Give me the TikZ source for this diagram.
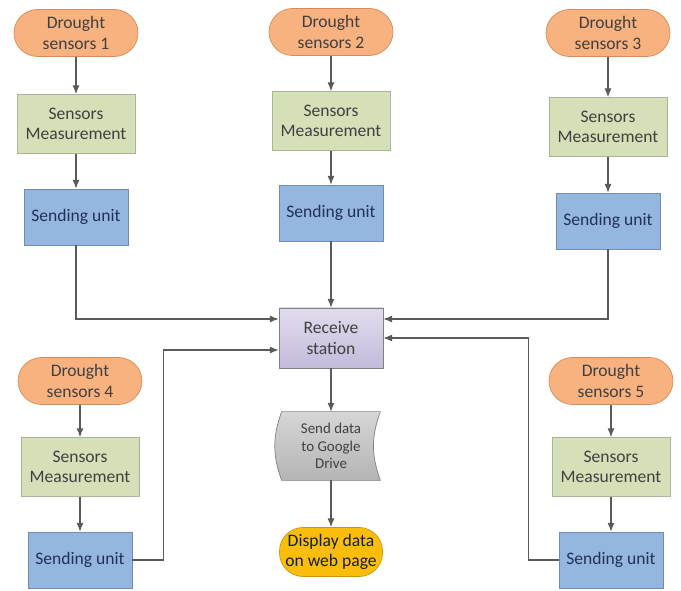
\documentclass[tikz,border=0pt]{standalone}
\usepackage{fontspec}
\setmainfont{Carlito}
\usepackage{xcolor}
\usepackage{tikz}
\usetikzlibrary{arrows.meta, positioning, backgrounds}
\definecolor{sensorfill}{RGB}{247,178,128}
\definecolor{sensordraw}{RGB}{214,140,90}
\definecolor{measfill}{RGB}{214,224,184}
\definecolor{measdraw}{RGB}{170,180,150}
\definecolor{sendfill}{RGB}{149,182,222}
\definecolor{senddraw}{RGB}{110,140,180}
\definecolor{recvtop}{RGB}{226,220,238}
\definecolor{recvbot}{RGB}{196,186,218}
\definecolor{drivetop}{RGB}{214,214,214}
\definecolor{drivebot}{RGB}{180,180,180}
\definecolor{webfill}{RGB}{250,190,10}
\definecolor{webdraw}{RGB}{200,150,20}
\definecolor{linegray}{RGB}{90,90,90}
\definecolor{txtgray}{RGB}{64,64,64}
\definecolor{txtblue}{RGB}{30,50,90}

\begin{document}
\begin{tikzpicture}[
    font=\fontsize{10}{11.5}\selectfont,
    sensor/.style={rectangle, rounded corners=0.47cm, draw=sensordraw, fill=sensorfill, text=txtgray, minimum width=2.48cm, minimum height=0.94cm, align=center, inner sep=1pt},
    meas/.style={rectangle, draw=measdraw, fill=measfill, text=txtgray, minimum width=2.36cm, minimum height=1.18cm, align=center},
    sendbox/.style={rectangle, draw=senddraw, fill=sendfill, text=txtblue, minimum width=2.08cm, minimum height=1.12cm, align=center},
    arrow/.style={-{Latex[length=5pt, width=4pt]}, draw=linegray, line width=0.6pt}
]
    \useasboundingbox (0, 0) rectangle (13.62, 11.8);

    % Top row of sensors
    \node[sensor] (ds1) at (1.52, 11.14) {Drought\\sensors 1};
    \node[meas] (sm1) at (1.52, 9.32) {Sensors\\Measurement};
    \node[sendbox] (su1) at (1.52, 7.46) {Sending unit};

    \node[sensor] (ds2) at (6.62, 11.16) {Drought\\sensors 2};
    \node[meas] (sm2) at (6.62, 9.38) {Sensors\\Measurement};
    \node[sendbox] (su2) at (6.62, 7.54) {Sending unit};

    \node[sensor] (ds3) at (12.16, 11.14) {Drought\\sensors 3};
    \node[meas] (sm3) at (12.16, 9.26) {Sensors\\Measurement};
    \node[sendbox] (su3) at (12.16, 7.38) {Sending unit};

    % Bottom row of sensors
    \node[sensor] (ds4) at (1.6, 4.18) {Drought\\sensors 4};
    \node[meas] (sm4) at (1.6, 2.46) {Sensors\\Measurement};
    \node[sendbox] (su4) at (1.6, 0.6) {Sending unit};

    \node[sensor] (ds5) at (12.22, 4.18) {Drought\\sensors 5};
    \node[meas] (sm5) at (12.22, 2.46) {Sensors\\Measurement};
    \node[sendbox] (su5) at (12.22, 0.6) {Sending unit};

    % Middle column
    \node[rectangle, draw=gray, top color=recvtop, bottom color=recvbot, text=txtgray, minimum width=2.08cm, minimum height=1.2cm, align=center] (rs) at (6.62, 5.04) {Receive\\station};
    \node[minimum width=1.96cm, minimum height=1.36cm, align=center, text=txtgray, font=\fontsize{8.5}{10}\selectfont] (gd) at (6.62, 2.88) {Send data\\to Google\\Drive};
    \node[sensor, draw=webdraw, fill=webfill, text=txtblue!60!black, minimum width=2.06cm, minimum height=0.98cm] (wp) at (6.62, 0.76) {Display data\\on web page};

    % Stored data symbol
    \begin{scope}[on background layer]
        \draw[gray, top color=drivetop, bottom color=drivebot] (gd.north west) to[bend right=20] (gd.south west) -- (gd.south east) to[bend left=20] (gd.north east) -- cycle;
    \end{scope}

    % Chains
    \foreach \i in {1,...,5} {
        \draw[arrow] (ds\i) -- (sm\i);
        \draw[arrow] (sm\i) -- (su\i);
    }

    % Links to the receive station
    \draw[arrow] (su1.south) |- ([yshift=0.38cm]rs.west);
    \draw[arrow] (su2) -- (rs);
    \draw[arrow] (su3.south) |- ([yshift=0.38cm]rs.east);
    \draw[arrow] (su4.east) -- ++(0.62, 0) |- ([yshift=-0.24cm]rs.west);
    \draw[arrow] (su5.west) -- ++(-0.6, 0) |- (rs.east);

    \draw[arrow] (rs) -- (gd);
    \draw[arrow] (gd) -- (wp);
\end{tikzpicture}
\end{document}
